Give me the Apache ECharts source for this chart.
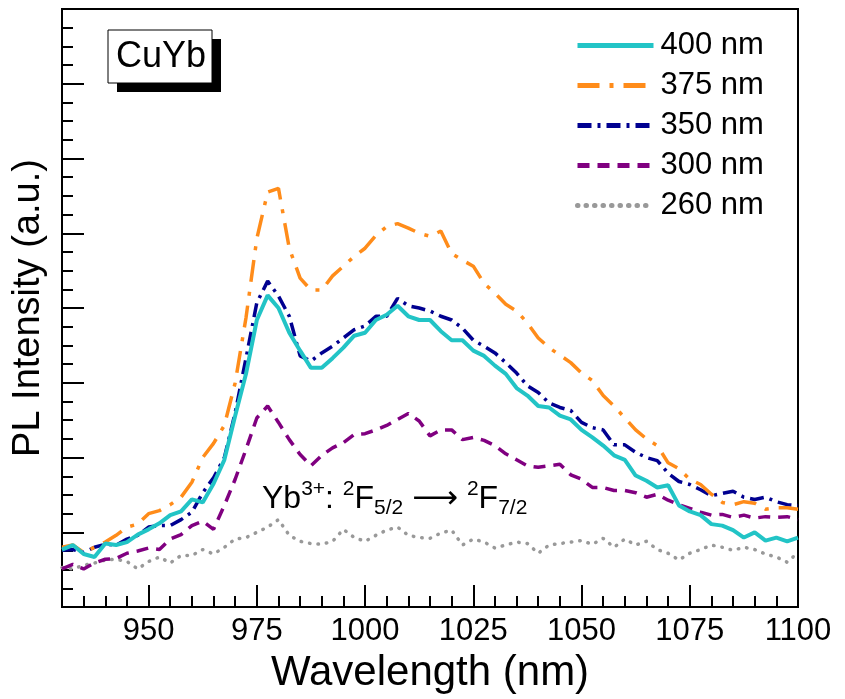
<!DOCTYPE html>
<html>
<head>
<meta charset="utf-8">
<script src="https://cdn.jsdelivr.net/npm/echarts@6/dist/echarts.min.js"></script>
<style>
  html, body { margin: 0; padding: 0; background: #fff; }
  #chart { width: 845px; height: 699px; }
</style>
</head>
<body>
<div id="chart"></div>
<script>
// wavelength grid (nm), 2.5 nm steps
const wavelengths = [
  930, 932.5, 935, 937.5, 940, 942.5, 945, 947.5, 950, 952.5,
  955, 957.5, 960, 962.5, 965, 967.5, 970, 972.5, 975, 977.5,
  980, 982.5, 985, 987.5, 990, 992.5, 995, 997.5, 1000, 1002.5,
  1005, 1007.5, 1010, 1012.5, 1015, 1017.5, 1020, 1022.5, 1025, 1027.5,
  1030, 1032.5, 1035, 1037.5, 1040, 1042.5, 1045, 1047.5, 1050, 1052.5,
  1055, 1057.5, 1060, 1062.5, 1065, 1067.5, 1070, 1072.5, 1075, 1077.5,
  1080, 1082.5, 1085, 1087.5, 1090, 1092.5, 1095, 1097.5, 1100
];

const pl400 = [
  0.77, 0.83, 0.71, 0.67, 0.85, 0.83, 0.87, 0.97, 1.04, 1.12,
  1.23, 1.28, 1.44, 1.40, 1.65, 1.97, 2.56, 3.12, 3.84, 4.17,
  4.00, 3.67, 3.43, 3.20, 3.20, 3.33, 3.47, 3.63, 3.67, 3.84,
  3.91, 4.03, 3.89, 3.84, 3.84, 3.69, 3.57, 3.57, 3.43, 3.36,
  3.23, 3.12, 2.93, 2.83, 2.69, 2.67, 2.56, 2.51, 2.37, 2.27,
  2.16, 2.03, 1.97, 1.76, 1.69, 1.60, 1.63, 1.36, 1.28, 1.23,
  1.11, 1.09, 1.03, 0.93, 1.00, 0.89, 0.93, 0.88, 0.93
];

const pl375 = [
  0.80, 0.83, 0.73, 0.80, 0.87, 0.96, 1.07, 1.11, 1.25, 1.29,
  1.37, 1.47, 1.67, 2.00, 2.19, 2.43, 3.00, 3.87, 4.93, 5.55,
  5.60, 4.80, 4.40, 4.24, 4.24, 4.43, 4.56, 4.69, 4.80, 4.97,
  5.09, 5.13, 5.07, 5.00, 4.96, 5.03, 4.73, 4.64, 4.56, 4.33,
  4.20, 4.05, 3.96, 3.80, 3.60, 3.47, 3.37, 3.27, 3.13, 3.03,
  2.83, 2.69, 2.53, 2.37, 2.25, 2.16, 1.93, 1.85, 1.71, 1.64,
  1.51, 1.40, 1.37, 1.41, 1.39, 1.31, 1.33, 1.33, 1.31
];

const pl350 = [
  0.76, 0.77, 0.73, 0.80, 0.84, 0.83, 0.91, 0.96, 1.07, 1.09,
  1.09, 1.17, 1.27, 1.53, 1.73, 2.00, 2.60, 3.33, 4.07, 4.36,
  4.16, 3.89, 3.36, 3.29, 3.40, 3.49, 3.60, 3.71, 3.76, 3.89,
  3.89, 4.13, 4.03, 4.00, 3.96, 3.89, 3.84, 3.73, 3.57, 3.49,
  3.40, 3.27, 3.13, 2.96, 2.87, 2.73, 2.67, 2.63, 2.47, 2.40,
  2.37, 2.17, 2.17, 2.07, 2.00, 1.96, 1.79, 1.68, 1.64, 1.57,
  1.49, 1.52, 1.55, 1.47, 1.44, 1.47, 1.41, 1.37, 1.36
];

const pl300 = [
  0.51, 0.57, 0.51, 0.59, 0.64, 0.65, 0.72, 0.75, 0.79, 0.77,
  0.91, 0.97, 1.09, 1.15, 1.04, 1.36, 1.71, 2.11, 2.53, 2.69,
  2.47, 2.24, 2.04, 1.89, 2.03, 2.13, 2.20, 2.31, 2.32, 2.37,
  2.43, 2.51, 2.59, 2.49, 2.29, 2.37, 2.37, 2.24, 2.27, 2.23,
  2.16, 2.05, 1.97, 1.89, 1.87, 1.89, 1.91, 1.77, 1.71, 1.60,
  1.60, 1.56, 1.56, 1.53, 1.47, 1.51, 1.43, 1.37, 1.32, 1.27,
  1.23, 1.24, 1.20, 1.23, 1.19, 1.21, 1.20, 1.21, 1.17
];

const pl260 = [
  0.53, 0.51, 0.56, 0.59, 0.63, 0.64, 0.61, 0.51, 0.61, 0.67,
  0.59, 0.69, 0.69, 0.77, 0.71, 0.80, 0.91, 0.93, 1.00, 1.07,
  1.17, 0.96, 0.88, 0.85, 0.84, 0.88, 1.04, 0.93, 0.88, 0.96,
  1.03, 1.07, 0.96, 0.93, 0.92, 0.99, 1.03, 0.83, 0.91, 0.87,
  0.79, 0.83, 0.87, 0.85, 0.72, 0.83, 0.85, 0.87, 0.89, 0.84,
  0.92, 0.80, 0.91, 0.83, 0.88, 0.77, 0.72, 0.63, 0.72, 0.77,
  0.83, 0.80, 0.76, 0.80, 0.77, 0.71, 0.67, 0.60, 0.73
];

const xMajorTicks = [950, 975, 1000, 1025, 1050, 1075, 1100];
const legendNames = ['400 nm', '375 nm', '350 nm', '300 nm', '260 nm'];

const FONT = "'Liberation Sans', Arial, 'DejaVu Sans', sans-serif";

function pairs(values) {
  return wavelengths.map((w, i) => [w, values[i]]);
}

function lineSeries(name, values, color, width, type, cap) {
  return {
    name: name,
    type: 'line',
    data: pairs(values),
    xAxisIndex: 0,
    yAxisIndex: 0,
    symbol: 'none',
    showSymbol: false,
    animation: false,
    lineStyle: { color: color, width: width, type: type, cap: cap || 'butt' },
    itemStyle: { color: color }
  };
}

var myChart = echarts.init(document.getElementById('chart'));
myChart.setOption({
  backgroundColor: '#fff',
  animation: false,
  grid: {
    left: 62, right: 47, top: 9, bottom: 88,
    show: true, borderColor: '#000', borderWidth: 2, backgroundColor: 'transparent'
  },
  legend: {
    data: legendNames,
    orient: 'vertical',
    left: 575,
    top: 30,
    padding: 0,
    itemWidth: 76,
    itemHeight: 14,
    itemGap: 9,
    itemStyle: { opacity: 0 },
    lineStyle: { width: 5 },
    textStyle: { fontSize: 31, lineHeight: 30, color: '#000', fontFamily: FONT, padding: [0, 0, 0, 2] }
  },
  xAxis: [
    {
      type: 'value',
      min: 930,
      max: 1100,
      position: 'bottom',
      axisLine: { show: true, lineStyle: { color: '#000', width: 2 } },
      axisTick: { show: true, inside: true, length: 22, lineStyle: { color: '#000', width: 2 }, customValues: xMajorTicks },
      axisLabel: {
        color: '#000', fontSize: 31, fontFamily: FONT, margin: 9, customValues: xMajorTicks,
        formatter: function (v) { return String(v); }
      },
      splitLine: { show: false },
      name: 'Wavelength (nm)',
      nameLocation: 'middle',
      nameGap: 33,
      nameTextStyle: { fontSize: 42, color: '#000', fontFamily: FONT }
    },
    {
      // minor ticks every 5 nm
      type: 'value',
      min: 930,
      max: 1100,
      interval: 5,
      position: 'bottom',
      axisLine: { show: false },
      axisTick: { show: true, inside: true, length: 11, lineStyle: { color: '#000', width: 2 } },
      axisLabel: { show: false },
      splitLine: { show: false }
    }
  ],
  yAxis: {
    type: 'value',
    min: 0,
    max: 8,
    interval: 1,
    axisLine: { show: true, lineStyle: { color: '#000', width: 2 } },
    axisTick: { show: true, inside: true, length: 22, lineStyle: { color: '#000', width: 2 } },
    minorTick: { show: true, splitNumber: 4, length: 11, lineStyle: { color: '#000', width: 2 } },
    axisLabel: { show: false },
    splitLine: { show: false },
    name: 'PL Intensity (a.u.)',
    nameLocation: 'middle',
    nameGap: 14,
    nameTextStyle: { fontSize: 38, color: '#000', fontFamily: FONT }
  },
  series: [
    lineSeries('260 nm', pl260, '#999999', 3.5, [0.5, 8], 'round'),
    lineSeries('300 nm', pl300, '#800080', 3.5, [12, 8]),
    lineSeries('350 nm', pl350, '#000090', 3.5, [14, 6, 3, 6]),
    lineSeries('375 nm', pl375, '#ff8c1a', 3.5, [22, 10, 4, 10]),
    lineSeries('400 nm', pl400, '#22c4c6', 4)
  ],
  graphic: [
    { type: 'rect', shape: { x: 117, y: 39, width: 104, height: 53 }, style: { fill: '#000' }, z: 100 },
    { type: 'rect', shape: { x: 108, y: 30, width: 104, height: 53 }, style: { fill: '#fff', stroke: '#000', lineWidth: 1 }, z: 101 },
    {
      type: 'text', x: 161, y: 57, z: 102,
      style: { text: 'CuYb', fontSize: 36, fontFamily: FONT, fill: '#000', align: 'center', verticalAlign: 'middle' }
    },
    {
      type: 'text', x: 262, y: 499, z: 102,
      style: {
        text: '{m|Yb}{sup|3+}{m|: }{sup|2}{m|F}{sub|5/2}{m| ⟶ }{sup|2}{m|F}{sub|7/2}',
        fill: '#000',
        align: 'left',
        verticalAlign: 'middle',
        rich: {
          m: { fontSize: 32, fontFamily: FONT, lineHeight: 40, verticalAlign: 'middle', fill: '#000' },
          sup: { fontSize: 21, fontFamily: FONT, lineHeight: 20, verticalAlign: 'top', fill: '#000' },
          sub: { fontSize: 21, fontFamily: FONT, lineHeight: 20, verticalAlign: 'bottom', fill: '#000' }
        }
      }
    }
  ]
});
</script>
</body>
</html>
